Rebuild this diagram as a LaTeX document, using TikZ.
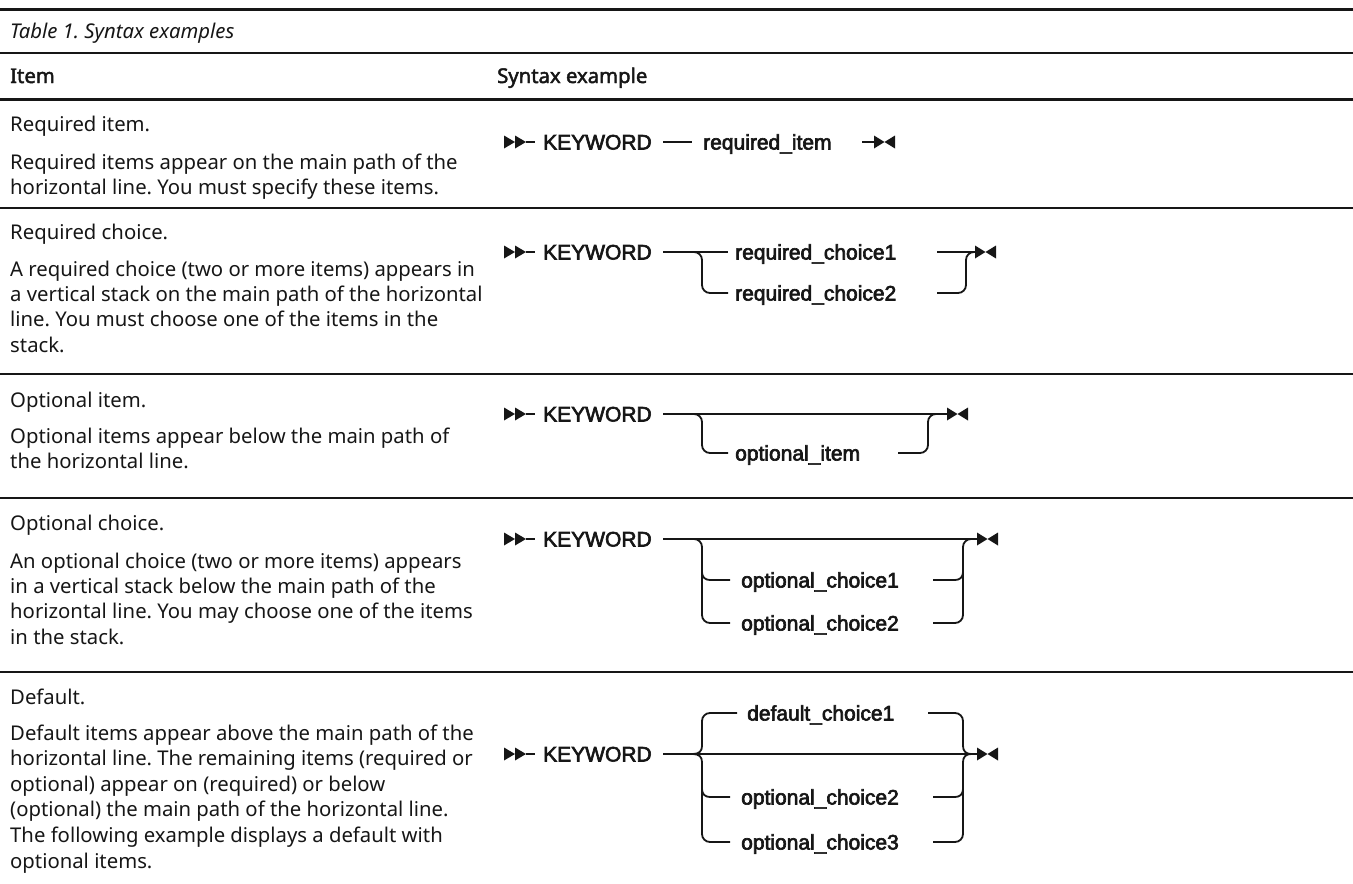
\documentclass[tikz,border=0pt]{standalone}
\usepackage{fontspec}
\setmainfont{Noto Sans}[AutoFakeBold=2.2]
\newfontfamily\railfont{Liberation Sans}[FakeBold=3]
\definecolor{ink}{HTML}{161616}
\frenchspacing

\tikzset{
  rule/.style={line width=2.6pt, draw=ink},
  rail/.style={line width=1.8pt, draw=ink},
  desc/.style={anchor=base west, inner sep=0pt, text=ink, font=\fontsize{20.3}{25}\selectfont},
  head/.style={desc, font=\fontsize{20.3}{25}\selectfont\bfseries},
  captiontext/.style={desc, font=\fontsize{20.3}{25}\selectfont\itshape},
  rtext/.style={anchor=base west, inner sep=0pt, text=ink, font=\railfont\fontsize{21}{24}\selectfont},
  startsym/.pic={
    \fill[ink] (0,-6.5) -- (11,0) -- (0,6.5) -- cycle;
    \fill[ink] (11,-6.5) -- (22,0) -- (11,6.5) -- cycle;
    \draw[rail] (22,0) -- (31,0);
  },
  endsym/.pic={
    \fill[ink] (0,-6.5) -- (10.5,0) -- (0,6.5) -- cycle;
    \fill[ink] (21,-6.5) -- (10.5,0) -- (21,6.5) -- cycle;
  },
}

\begin{document}
\begin{tikzpicture}[x=1pt,y=-1pt]
\useasboundingbox (0,0) rectangle (1353,884);

% table rules
\draw[rule, line width=3pt] (0,9) -- (1353,9);
\draw[rule] (0,53) -- (1353,53);
\draw[rule, line width=3pt] (0,99) -- (1353,99);
\foreach \y in {208,374,498,672} \draw[rule] (0,\y) -- (1353,\y);

% caption and header
\node[captiontext] (caption) at (10,38) {Table 1. Syntax examples};
\node[head] (hitem) at (10,83) {Item};
\node[head] (hsyn) at (497,83) {Syntax example};

% left column: item descriptions
\node[desc] (t1) at (10,131) {Required item.};
\foreach \t [count=\i] in {Required items appear on the main path of the,
  horizontal line. You must specify these items.}
  \node[desc] (d1-\i) at (10,169+25.4*\i-25.4) {\t};

\node[desc] (t2) at (10,239) {Required choice.};
\foreach \t [count=\i] in {A required choice (two or more items) appears in,
  a vertical stack on the main path of the horizontal,
  line. You must choose one of the items in the,
  stack.}
  \node[desc] (d2-\i) at (10,276+25.4*\i-25.4) {\t};

\node[desc] (t3) at (10,407) {Optional item.};
\foreach \t [count=\i] in {Optional items appear below the main path of,
  the horizontal line.}
  \node[desc] (d3-\i) at (10,443+25.4*\i-25.4) {\t};

\node[desc] (t4) at (10,530) {Optional choice.};
\foreach \t [count=\i] in {An optional choice (two or more items) appears,
  in a vertical stack below the main path of the,
  horizontal line. You may choose one of the items,
  in the stack.}
  \node[desc] (d4-\i) at (10,568+25.4*\i-25.4) {\t};

\node[desc] (t5) at (10,704) {Default.};
\foreach \t [count=\i] in {Default items appear above the main path of the,
  horizontal line. The remaining items (required or,
  optional) appear on (required) or below,
  (optional) the main path of the horizontal line.,
  The following example displays a default with,
  optional items.}
  \node[desc] (d5-\i) at (10,740+25.6*\i-25.6) {\t};

% ---- required item
\pic (s1) at (504,142) {startsym};
\node[rtext] (k1) at (543,149.5) {KEYWORD};
\draw[rail] (663,142) -- (692,142);
\node[rtext] (r1) at (703,149.5) {required\_item};
\draw[rail] (862,142) -- (874,142);
\pic (e1) at (874,142) {endsym};

% ---- required choice
\pic (s2) at (504,252) {startsym};
\node[rtext] (k2) at (543,259.5) {KEYWORD};
\draw[rail] (663,252) -- (728,252);
\draw[rail, rounded corners=8pt] (690,252) -| (702,293) -- (728,293);
\node[rtext] (r2a) at (735,259.5) {required\_choice1};
\node[rtext] (r2b) at (735,300.5) {required\_choice2};
\draw[rail] (937,252) -- (975,252);
\draw[rail, rounded corners=8pt] (937,293) -| (966,252) -- (975,252);
\pic (e2) at (975,252) {endsym};

% ---- optional item
\pic (s3) at (504,414) {startsym};
\node[rtext] (k3) at (543,421.5) {KEYWORD};
\draw[rail] (663,414) -- (947,414);
\draw[rail, rounded corners=8pt] (690,414) -| (702,453) -- (728,453);
\node[rtext] (o3) at (735,460.5) {optional\_item};
\draw[rail, rounded corners=8pt] (898,453) -| (928,414) -- (940,414);
\pic (e3) at (947,414) {endsym};

% ---- optional choice
\pic (s4) at (504,539) {startsym};
\node[rtext] (k4) at (543,546.5) {KEYWORD};
\draw[rail] (663,539) -- (977,539);
\draw[rail, rounded corners=8pt] (690,539) -| (702,580) |- (730,623);
\draw[rail] (702,572) .. controls (702,577) and (705,580) .. (710,580) -- (730,580);
\node[rtext] (o4a) at (741,587.5) {optional\_choice1};
\node[rtext] (o4b) at (741,630.5) {optional\_choice2};
\draw[rail, rounded corners=8pt] (933,623) -| (963,580) |- (975,539);
\draw[rail] (933,580) -- (955,580) .. controls (960,580) and (963,577) .. (963,572);
\pic (e4) at (977,539) {endsym};

% ---- default
\pic (s5) at (504,754) {startsym};
\node[rtext] (k5) at (543,761.5) {KEYWORD};
\draw[rail] (663,754) -- (977,754);
\node[rtext] (df5) at (747,720.5) {default\_choice1};
\node[rtext] (o5a) at (741,804.5) {optional\_choice2};
\node[rtext] (o5b) at (741,849.5) {optional\_choice3};
% left brace
\draw[rail, rounded corners=8pt] (737,713) -| (702,746);
\draw[rail] (702,746) .. controls (702,751) and (699,754) .. (693,754);
\draw[rail] (693,754) .. controls (699,754) and (702,757) .. (702,762);
\draw[rail, rounded corners=8pt] (702,762) |- (730,842);
\draw[rail] (702,789) .. controls (702,794) and (705,797) .. (710,797) -- (730,797);
% right brace
\draw[rail, rounded corners=8pt] (928,713) -| (963,746);
\draw[rail] (963,746) .. controls (963,751) and (966,754) .. (971,754);
\draw[rail] (971,754) .. controls (966,754) and (963,757) .. (963,762);
\draw[rail, rounded corners=8pt] (963,762) |- (933,842);
\draw[rail] (933,797) -- (955,797) .. controls (960,797) and (963,794) .. (963,789);
\pic (e5) at (977,754) {endsym};
\end{tikzpicture}
\end{document}
